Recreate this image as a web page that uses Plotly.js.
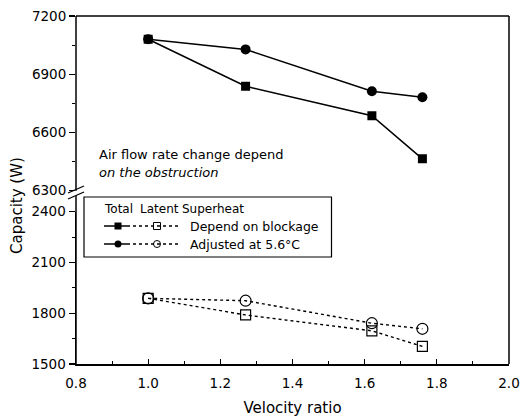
<!DOCTYPE html>
<html>
<head>
<meta charset="utf-8">
<script src="https://cdn.plot.ly/plotly-3.0.1.min.js"></script>
<style>html,body{margin:0;padding:0;background:#fff;}#chart{width:520px;height:419px;}</style>
</head>
<body>
<div id="chart"></div>
<script>
// ---- data ----
var velocityRatio   = [1.0, 1.27, 1.62, 1.76];
var totalBlockage   = [7080, 6838, 6686, 6464];
var totalAdjusted   = [7080, 7028, 6812, 6781];
var latentBlockage  = [1888, 1790, 1696, 1604];
var latentAdjusted  = [1888, 1874, 1741, 1708];
var seriesNames     = ["Depend on blockage", "Adjusted at 5.6\u00B0C"];
var legendHeader    = ["Total", "Latent", "Superheat"];
var xTicks          = [0.8, 1.0, 1.2, 1.4, 1.6, 1.8, 2.0];
var yTicksTop       = [6300, 6600, 6900, 7200];
var yTicksBottom    = [1500, 1800, 2100, 2400];

// ---- layout geometry (pixels) ----
var W = 520, H = 419, L = 76, R = 11, T = 16, B = 55;
var PW = W - L - R, PH = H - T - B;
function fx(x){ return (x - L) / PW; }
function fy(y){ return 1 - (y - T) / PH; }
var FONT = "DejaVu Sans";

var traces = [
  {x: velocityRatio, y: totalBlockage, xaxis:'x', yaxis:'y2', mode:'lines+markers',
   line:{color:'#000', width:1.5}, marker:{symbol:'square', size:9, color:'#000'}, showlegend:false},
  {x: velocityRatio, y: totalAdjusted, xaxis:'x', yaxis:'y2', mode:'lines+markers',
   line:{color:'#000', width:1.5}, marker:{symbol:'circle', size:10, color:'#000'}, showlegend:false},
  {x: velocityRatio, y: latentBlockage, xaxis:'x', yaxis:'y', mode:'lines+markers',
   line:{color:'#000', width:1.4, dash:'dot'}, marker:{symbol:'square-open', size:10, color:'#000', line:{width:1.2}}, showlegend:false},
  {x: velocityRatio, y: latentAdjusted, xaxis:'x', yaxis:'y', mode:'lines+markers',
   line:{color:'#000', width:1.4, dash:'dot'}, marker:{symbol:'circle-open', size:11, color:'#000', line:{width:1.2}}, showlegend:false}
];

// legend samples on an invisible pixel-space overlay
var rowsY = [226, 244];
var filledSym = ['square', 'circle'];
var openSym = ['square-open', 'circle-open'];
for (var i = 0; i < 2; i++) {
  traces.push({x:[104,127], y:[rowsY[i],rowsY[i]], xaxis:'x2', yaxis:'y3', mode:'lines',
    line:{color:'#000', width:1.5}, showlegend:false, hoverinfo:'skip'});
  traces.push({x:[118], y:[rowsY[i]], xaxis:'x2', yaxis:'y3', mode:'markers',
    marker:{symbol:filledSym[i], size:7, color:'#000'}, showlegend:false, hoverinfo:'skip'});
  traces.push({x:[127,180], y:[rowsY[i],rowsY[i]], xaxis:'x2', yaxis:'y3', mode:'lines',
    line:{color:'#000', width:1.3, dash:'dot'}, showlegend:false, hoverinfo:'skip'});
  traces.push({x:[157], y:[rowsY[i]], xaxis:'x2', yaxis:'y3', mode:'markers',
    marker:{symbol:openSym[i], size:7, color:'#000', line:{width:1}}, showlegend:false, hoverinfo:'skip'});
}

var tickFont = {family: FONT, size: 13.5, color:'#000'};
var yDomTop = [fy(190.7), 1];
var yDomBot = [0, fy(211.7)];
var legFont = {family:FONT, size:12.5, color:'#000'};
var hdrFont = {family:FONT, size:12, color:'#000'};

var annotations = [
  {xref:'paper', yref:'paper', x:fx(97), y:fy(155), xanchor:'left', yanchor:'middle', showarrow:false,
   text:'Air flow rate change depend', font:{family:FONT, size:13, color:'#000'}},
  {xref:'paper', yref:'paper', x:fx(97), y:fy(173), xanchor:'left', yanchor:'middle', showarrow:false,
   text:'<i>on the obstruction</i>', font:{family:FONT, size:13, color:'#000'}},
  {xref:'paper', yref:'paper', x:fx(17) , y:fy(206), xanchor:'center', yanchor:'middle', showarrow:false,
   textangle:-90, text:'Capacity (W)', font:{family:FONT, size:15, color:'#000'}},
  {xref:'paper', yref:'paper', x:fx(102), y:fy(209), xanchor:'left', yanchor:'middle', showarrow:false,
   text:legendHeader[0], font:hdrFont},
  {xref:'paper', yref:'paper', x:fx(138), y:fy(209), xanchor:'left', yanchor:'middle', showarrow:false,
   text:legendHeader[1], font:hdrFont},
  {xref:'paper', yref:'paper', x:fx(180), y:fy(209), xanchor:'left', yanchor:'middle', showarrow:false,
   text:legendHeader[2], font:hdrFont},
  {xref:'paper', yref:'paper', x:fx(188), y:fy(226), xanchor:'left', yanchor:'middle', showarrow:false,
   text:seriesNames[0], font:legFont},
  {xref:'paper', yref:'paper', x:fx(188), y:fy(244), xanchor:'left', yanchor:'middle', showarrow:false,
   text:seriesNames[1], font:legFont}
];

var lineStyle = {color:'#000', width:1.5};
var shapes = [
  {type:'line', xref:'paper', yref:'paper', x0:0, x1:1, y0:1, y1:1, line:lineStyle},
  {type:'line', xref:'paper', yref:'paper', x0:1, x1:1, y0:0, y1:1, line:lineStyle},
  {type:'line', xref:'paper', yref:'paper', x0:0, x1:0, y0:fy(190.7), y1:1, line:lineStyle},
  {type:'line', xref:'paper', yref:'paper', x0:0, x1:0, y0:0, y1:fy(196), line:lineStyle},
  {type:'line', xref:'paper', yref:'paper', x0:fx(68), x1:fx(84), y0:fy(193), y1:fy(186), line:{color:'#000', width:1.3}},
  {type:'line', xref:'paper', yref:'paper', x0:fx(68), x1:fx(84), y0:fy(199), y1:fy(192), line:{color:'#000', width:1.3}},
  {type:'rect', xref:'paper', yref:'paper', x0:fx(84), x1:fx(331.5), y0:fy(257), y1:fy(197),
   line:{color:'#000', width:1.2}, fillcolor:'rgba(0,0,0,0)', layer:'below'}
];

var layout = {
  width: W, height: H,
  margin: {l:L, r:R, t:T, b:B, pad:0},
  paper_bgcolor:'#fff', plot_bgcolor:'rgba(0,0,0,0)',
  showlegend:false,
  font:{family:FONT, color:'#000'},
  xaxis: {domain:[0,1], range:[0.8, 2.0], anchor:'y', tickvals:xTicks, ticktext:xTicks.map(function(v){return v.toFixed(1);}),
    showline:true, linecolor:'#000', linewidth:1.5, ticks:'inside', ticklen:5, tickwidth:1.2, tickcolor:'#000',
    minor:{dtick:0.1, ticks:'inside', ticklen:3, tickwidth:1, tickcolor:'#000'},
    showgrid:false, zeroline:false, tickfont:tickFont, ticklabelstandoff:6,
    title:{text:'Velocity ratio', font:{family:FONT, size:15, color:'#000'}, standoff:13}},
  yaxis: {domain:yDomBot, range:[1500, 2400], anchor:'x', tickvals:yTicksBottom,
    showline:true, linecolor:'#000', linewidth:1.5, ticks:'outside', ticklen:6, tickwidth:1.2, tickcolor:'#000',
    minor:{dtick:150, ticks:'outside', ticklen:3, tickwidth:1, tickcolor:'#000'},
    showgrid:false, zeroline:false, tickfont:tickFont},
  yaxis2: {domain:yDomTop, range:[6300, 7200], anchor:'x', tickvals:yTicksTop,
    showline:false, ticks:'outside', ticklen:6, tickwidth:1.2, tickcolor:'#000',
    minor:{dtick:150, ticks:'outside', ticklen:3, tickwidth:1, tickcolor:'#000'},
    showgrid:false, zeroline:false, tickfont:tickFont},
  xaxis2: {domain:[0,1], range:[L, W-R], anchor:'y3', visible:false, fixedrange:true},
  yaxis3: {domain:[0,1], range:[H-B, T], anchor:'x2', visible:false, fixedrange:true},
  annotations: annotations,
  shapes: shapes
};

Plotly.newPlot('chart', traces, layout, {displayModeBar:false, staticPlot:true});
</script>
</body>
</html>
